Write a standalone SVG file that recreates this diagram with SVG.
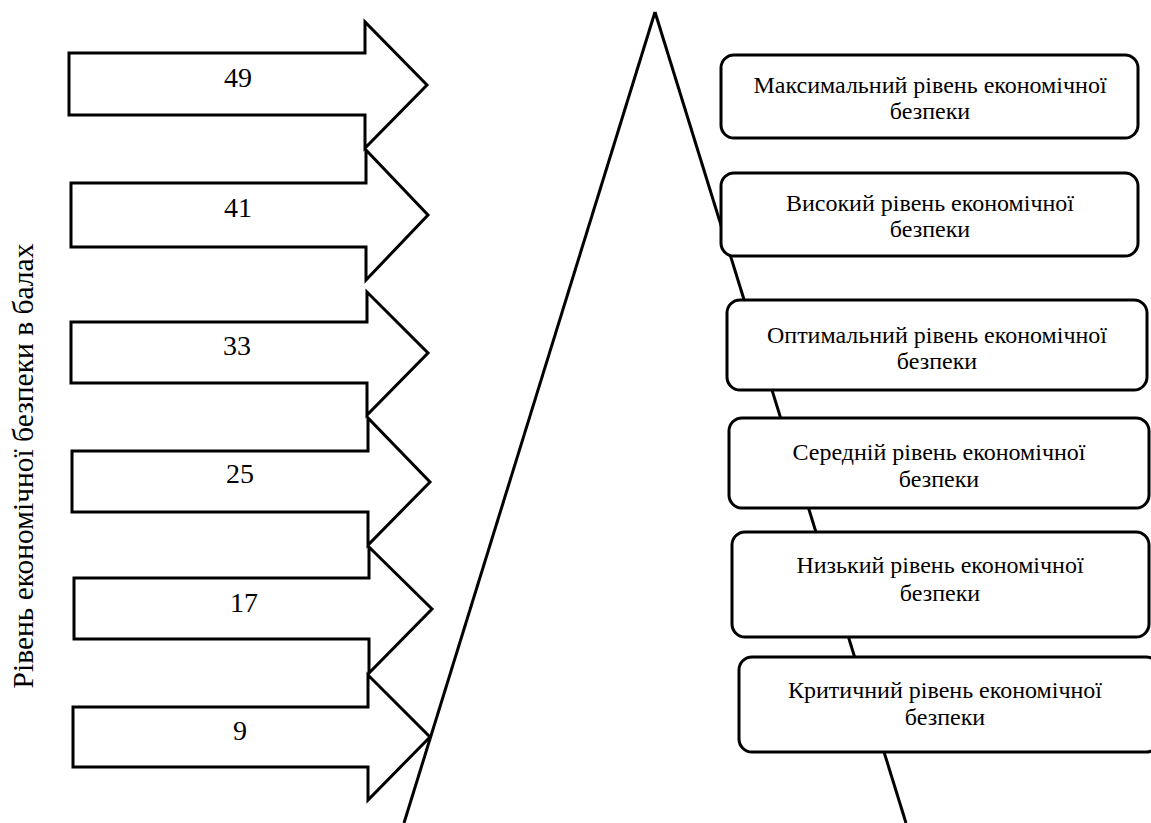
<svg xmlns="http://www.w3.org/2000/svg" width="1151" height="823" viewBox="0 0 1151 823">
<style>
.arr{fill:#fff;stroke:#000;stroke-width:3;stroke-linejoin:miter}
.box{fill:#fff;stroke:#000;stroke-width:3}
.ln{stroke:#000;stroke-width:3;fill:none}
text{font-family:'Liberation Serif','Times New Roman','DejaVu Serif',serif;fill:#000;text-anchor:middle}
.num{font-size:28px}
.bt{font-size:24px}
.vt{font-size:29.5px}
</style>
<rect width="1151" height="823" fill="#fff"/>
<text class="vt" transform="translate(33,466) rotate(-90)">Рівень економічної безпеки в балах</text>
<g id="arrow49"><path class="arr" d="M69,53 H365 V22 L427,85 L365,148 V115 H69 Z"/><text class="num" x="238" y="87">49</text></g>
<g id="arrow41"><path class="arr" d="M71,183 H366 V150 L428,215 L366,280 V247 H71 Z"/><text class="num" x="238" y="217">41</text></g>
<g id="arrow33"><path class="arr" d="M71,322 H367 V292 L428,353 L367,415 V383 H71 Z"/><text class="num" x="237" y="355">33</text></g>
<g id="arrow25"><path class="arr" d="M72,451 H368 V418 L430,482 L368,545 V512 H72 Z"/><text class="num" x="240" y="483">25</text></g>
<g id="arrow17"><path class="arr" d="M74,578 H369 V547 L432,609 L369,673 V639 H74 Z"/><text class="num" x="244" y="612">17</text></g>
<g id="arrow9"><path class="arr" d="M73,707 H368 V675 L430,737 L368,800 V767 H73 Z"/><text class="num" x="240" y="740">9</text></g>
<g id="connectors">
<line class="ln" x1="655" y1="12" x2="404" y2="823"/>
<line class="ln" x1="655" y1="12" x2="906" y2="823"/>
</g>
<g id="box1"><rect class="box" x="721" y="55" width="417" height="83" rx="13"/><text class="bt" x="930" y="93">Максимальний рівень економічної</text><text class="bt" x="930" y="119">безпеки</text></g>
<g id="box2"><rect class="box" x="721" y="173" width="417" height="83" rx="13"/><text class="bt" x="930" y="211">Високий рівень економічної</text><text class="bt" x="930" y="237">безпеки</text></g>
<g id="box3"><rect class="box" x="727" y="300" width="420" height="90" rx="13"/><text class="bt" x="937" y="343">Оптимальний рівень економічної</text><text class="bt" x="937" y="369">безпеки</text></g>
<g id="box4"><rect class="box" x="729" y="418" width="420" height="90" rx="13"/><text class="bt" x="939" y="460">Середній рівень економічної</text><text class="bt" x="939" y="487">безпеки</text></g>
<g id="box5"><rect class="box" x="732" y="532" width="417" height="105" rx="13"/><text class="bt" x="940" y="573">Низький рівень економічної</text><text class="bt" x="940" y="601">безпеки</text></g>
<g id="box6"><rect class="box" x="739" y="657" width="420" height="95" rx="13"/><text class="bt" x="945" y="698">Критичний рівень економічної</text><text class="bt" x="945" y="725">безпеки</text></g>
</svg>
